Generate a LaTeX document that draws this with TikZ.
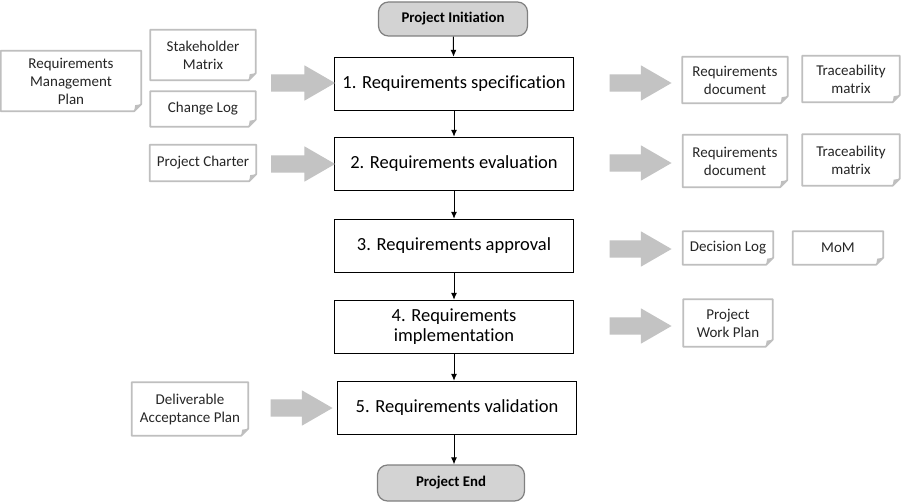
\documentclass[tikz,border=0pt]{standalone}
\usepackage{fontspec}
\setmainfont{Carlito}[Ligatures=NoCommon]
\usetikzlibrary{shapes.arrows,arrows.meta}

\definecolor{docgrey}{HTML}{BFBFBF}
\definecolor{blockgrey}{HTML}{C3C3C3}
\definecolor{termgrey}{HTML}{D3D3D3}
\definecolor{termline}{HTML}{808080}

\tikzset{
  stepbox/.style={draw=black,line width=1.4pt,fill=white,minimum width=239pt,minimum height=53pt,font=\fontsize{18.5}{20}\selectfont},
  termbox/.style={draw=termline,line width=1.2pt,fill=termgrey,rounded corners=10pt,font=\bfseries\fontsize{14.8}{17}\selectfont},
  docbox/.style={align=center,inner sep=1pt,font=\fontsize{15}{18}\selectfont,text=black!85},
  docline/.style={draw=docgrey,line width=1.8pt,line join=round},
  blockarrow/.style={single arrow,fill=blockgrey,draw=none,inner xsep=0pt,inner ysep=8.5pt,
    single arrow head extend=9pt,single arrow tip angle=60,minimum height=64pt},
  flowarrow/.style={-{Latex[length=7pt,width=6pt]},line width=1pt}
}

% outline of a sheet with a folded corner
\newcommand{\sheet}[1]{%
  \draw[docline] (#1.north west) -- (#1.north east) -- ([yshift=7pt]#1.south east)
    -- ([xshift=-7pt]#1.south east) -- (#1.south west) -- cycle;
  \fill[docgrey] ([yshift=7pt]#1.south east) -- ([xshift=-6pt,yshift=6pt]#1.south east)
    -- ([xshift=-7pt]#1.south east) -- cycle;
}

\begin{document}
\begin{tikzpicture}[x=1pt,y=-1pt]
\useasboundingbox[fill=white] (0,0) rectangle (901,503);

% main flow
\node[termbox,minimum width=149pt,minimum height=34pt] (init) at (453,19) {Project Initiation};
\node[stepbox] (s1) at (454,84) {1. Requirements specification};
\node[stepbox] (s2) at (454,164) {2. Requirements evaluation};
\node[stepbox] (s3) at (454,246) {3. Requirements approval};
\node[stepbox,align=center] (s4) at (454,327) {4. Requirements\\implementation};
\node[stepbox] (s5) at (457,408) {5. Requirements validation};
\node[termbox,minimum width=147pt,minimum height=36pt] (fin) at (451,483) {Project End};

\draw[flowarrow] (init) -- (s1);
\draw[flowarrow] (s1) -- (s2);
\draw[flowarrow] (s2) -- (s3);
\draw[flowarrow] (s3) -- (s4);
\draw[flowarrow] (s4.south) -- (s4.south |- s5.north);
\draw[flowarrow] (s5.south -| s4.south) -- (s4.south |- fin.north);

% inputs
\node[docbox,minimum width=140pt,minimum height=60pt] (rmp) at (71,81) {Requirements\\Management\\Plan};
\node[docbox,minimum width=105pt,minimum height=50pt] (stake) at (203,55) {Stakeholder\\Matrix};
\node[docbox,minimum width=105pt,minimum height=35pt] (chlog) at (203,109) {Change Log};
\node[docbox,minimum width=106pt,minimum height=36pt] (charter) at (203,163) {Project Charter};
\node[docbox,minimum width=116pt,minimum height=53pt] (dap) at (190,409) {Deliverable\\Acceptance Plan};

% outputs
\node[docbox,minimum width=105pt,minimum height=46pt] (rdoca) at (735,80) {Requirements\\document};
\node[docbox,minimum width=97pt,minimum height=46pt] (tracea) at (851,79) {Traceability\\matrix};
\node[docbox,minimum width=104pt,minimum height=52pt] (rdocb) at (735,161) {Requirements\\document};
\node[docbox,minimum width=97pt,minimum height=51pt] (traceb) at (851,160) {Traceability\\matrix};
\node[docbox,minimum width=90pt,minimum height=33pt] (declog) at (728,248) {Decision Log};
\node[docbox,minimum width=90pt,minimum height=33pt] (mom) at (838,248) {MoM};
\node[docbox,minimum width=89pt,minimum height=47pt] (wplan) at (728,323) {Project\\Work Plan};

\foreach \d in {rmp,stake,chlog,charter,dap,rdoca,tracea,rdocb,traceb,declog,mom,wplan}
  \sheet{\d};

% block arrows
\node[blockarrow] (ina) at (295.5,83) {};
\node[blockarrow] (inb) at (295.5,164) {};
\node[blockarrow,minimum height=62pt] (inc) at (294,408) {};
\node[blockarrow,minimum height=62pt] (outa) at (633,83) {};
\node[blockarrow,minimum height=62pt] (outb) at (633,163) {};
\node[blockarrow,minimum height=62pt] (outc) at (633,249) {};
\node[blockarrow,minimum height=62pt] (outd) at (633,326) {};
\end{tikzpicture}
\end{document}
